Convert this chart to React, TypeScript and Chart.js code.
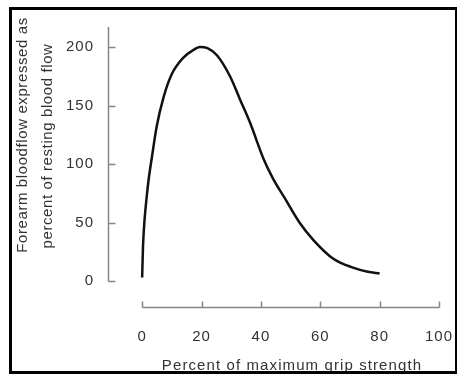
import React, { useEffect, useRef } from "react";
import { Chart, registerables } from "chart.js";

Chart.register(...registerables);

// Data
const gripPercent = [0, 0.3, 0.8, 1.5, 2.2, 3.3, 4.9, 7.2, 10, 13.9, 17, 19.5, 22, 25.2, 29.6, 33, 36.4, 40.8, 44, 48, 53, 57.7, 64.4, 71, 76, 80];
const bloodflow = [3, 30, 52, 71, 87, 106, 132, 157, 177, 191, 197, 200, 199, 193, 175, 155, 135, 105, 88, 71, 50, 35, 19, 11.5, 8, 6.5];
const xTicks = [0, 20, 40, 60, 80, 100];
const yTicks = [0, 50, 100, 150, 200];
const xTitle = "Percent of maximum grip strength";
const yTitleLines = ["Forearm bloodflow expressed as", "percent of resting blood flow"];

const FONT = "'Liberation Sans', Arial, Helvetica, sans-serif";
const AXIS_COLOR = "#858585";
const TEXT_COLOR = "#333333";

const spacingPlugin = {
  id: "spacing",
  beforeLayout(chart: any) {
    chart.ctx.letterSpacing = "1px";
  },
  beforeDraw(chart: any) {
    chart.ctx.letterSpacing = "1px";
  },
};

const axesPlugin = {
  id: "detachedAxes",
  afterDraw(chart: any) {
    const { ctx, chartArea } = chart;
    const x = chart.scales.x;
    const y = chart.scales.y;
    ctx.save();
    ctx.strokeStyle = AXIS_COLOR;
    ctx.lineWidth = 1.5;
    ctx.beginPath();
    const yx = chartArea.left + 0.5;
    ctx.moveTo(yx, chartArea.top);
    ctx.lineTo(yx, Math.round(y.getPixelForValue(0)) + 0.5);
    yTicks.forEach((v) => {
      const p = Math.round(y.getPixelForValue(v)) + 0.5;
      ctx.moveTo(yx, p);
      ctx.lineTo(yx + 7, p);
    });
    const xy = chartArea.bottom + 0.5;
    ctx.moveTo(Math.round(x.getPixelForValue(0)) + 0.5, xy);
    ctx.lineTo(Math.round(x.getPixelForValue(100)) + 0.5, xy);
    xTicks.forEach((v) => {
      const p = Math.round(x.getPixelForValue(v)) + 0.5;
      ctx.moveTo(p, xy);
      ctx.lineTo(p, xy - 6);
    });
    ctx.stroke();

    // titles
    ctx.fillStyle = TEXT_COLOR;
    ctx.font = `15px ${FONT}`;
    ctx.textAlign = "center";
    ctx.textBaseline = "alphabetic";
    ctx.letterSpacing = "1.1px";
    ctx.fillText(xTitle, 292, 370);
    ctx.letterSpacing = "0.6px";

    ctx.save();
    ctx.translate(27, 135);
    ctx.rotate(-Math.PI / 2);
    ctx.fillText(yTitleLines[0], 0, 0);
    ctx.restore();
    ctx.save();
    ctx.translate(52, 146);
    ctx.rotate(-Math.PI / 2);
    ctx.fillText(yTitleLines[1], 0, 0);
    ctx.restore();
    ctx.restore();
  },
};

const zeroPadding = (s: any) => {
  s.paddingLeft = 0;
  s.paddingRight = 0;
  s.paddingTop = 0;
  s.paddingBottom = 0;
};

export default function App() {
  const ref = useRef<HTMLCanvasElement | null>(null);
  useEffect(() => {
    if (!ref.current) return;
    const chart = new Chart(ref.current, {
      type: "line",
      data: {
        datasets: [
          {
            data: gripPercent.map((g, i) => ({ x: g, y: bloodflow[i] })),
            borderColor: "#111",
            borderWidth: 2.5,
            pointRadius: 0,
            fill: false,
            cubicInterpolationMode: "monotone",
          },
        ],
      },
      options: {
        animation: false,
        responsive: false,
        maintainAspectRatio: false,
        layout: { padding: { top: 27, right: 18, left: 0, bottom: 0 } },
        plugins: { legend: { display: false }, tooltip: { enabled: false }, title: { display: false } },
        scales: {
          x: {
            type: "linear",
            min: -11.5,
            max: 100,
            afterBuildTicks: (s: any) => {
              s.ticks = xTicks.map((v) => ({ value: v }));
            },
            afterFit: (s: any) => {
              s.height = 69;
              zeroPadding(s);
            },
            grid: { display: false, drawTicks: false },
            border: { display: false },
            ticks: {
              padding: 21,
              color: TEXT_COLOR,
              font: { family: FONT, size: 15 },
              maxRotation: 0,
              autoSkip: false,
            },
          },
          y: {
            type: "linear",
            min: -22.2,
            max: 217.1,
            afterBuildTicks: (s: any) => {
              s.ticks = yTicks.map((v) => ({ value: v }));
            },
            afterFit: (s: any) => {
              s.width = 108;
              zeroPadding(s);
            },
            grid: { display: false, drawTicks: false },
            border: { display: false },
            ticks: {
              padding: 14,
              color: TEXT_COLOR,
              font: { family: FONT, size: 15 },
              autoSkip: false,
            },
          },
        },
      },
      plugins: [spacingPlugin, axesPlugin],
    } as any);
    return () => chart.destroy();
  }, []);

  return (
    <div>
      <canvas
        ref={ref}
        width={457}
        height={376}
        style={{ position: "fixed", left: 0, top: 0, width: 457, height: 376, background: "#fff" }}
      />
      <div
        style={{
          position: "fixed",
          left: 9,
          top: 7,
          width: 448,
          height: 367,
          borderStyle: "solid",
          borderColor: "#000",
          borderWidth: "3px 2px 3px 3px",
          boxSizing: "border-box",
          pointerEvents: "none",
        }}
      />
    </div>
  );
}
